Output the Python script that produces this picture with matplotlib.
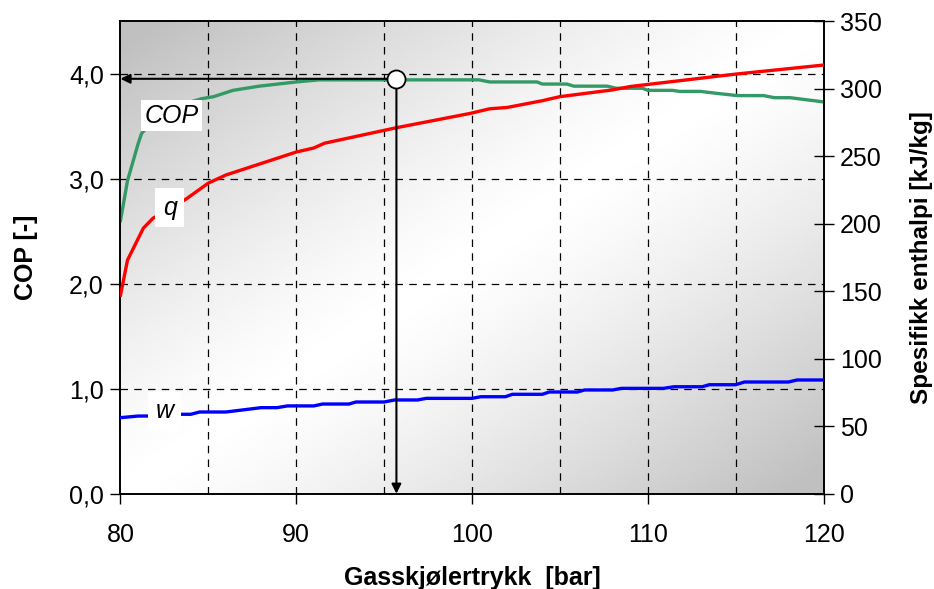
import numpy as np
import matplotlib
matplotlib.use("Agg")
import matplotlib.pyplot as plt
from matplotlib.ticker import FuncFormatter, MultipleLocator

plt.rcParams["font.family"] = ["Liberation Sans", "DejaVu Sans"]

# COP (left axis)
cop_p = [80, 80.4, 81.0, 81.2, 82.0, 83.0, 84.6, 85.3, 86.4, 87.9, 90.0, 91.3,
         100.4, 101.0, 103.7, 104.0, 105.4, 105.8, 107.7, 108.2, 109.7, 110.0,
         111.4, 111.8, 113.0, 114.0, 115.1, 116.6, 117.2, 118.1, 120.0]
cop = [2.60, 2.98, 3.33, 3.43, 3.58, 3.68, 3.76, 3.78, 3.84, 3.88, 3.92, 3.94,
       3.94, 3.92, 3.92, 3.90, 3.90, 3.88, 3.88, 3.86, 3.86, 3.84,
       3.84, 3.83, 3.83, 3.81, 3.79, 3.79, 3.77, 3.77, 3.73]

# specific enthalpy q and w (right axis, kJ/kg)
q_p = [80, 80.4, 81.3, 81.85, 83.0, 83.8, 85.0, 86.0, 90.0, 91.0, 91.6, 95.7,
       99.9, 101.0, 102.0, 104.0, 105.0, 108.0, 109.0, 115.0, 120.0]
q = [147, 173, 196.6, 204, 212, 218.8, 230, 236, 253, 256, 259.5, 271,
     281.6, 285, 286, 291, 294, 299, 301.5, 310.7, 317.4]

w_p = [80, 81.0, 81.6, 83.4, 84.0, 84.5, 86.0, 88.0, 88.9, 89.5, 91.0, 91.5,
       93.0, 93.4, 95.0, 95.6, 96.9, 97.4, 100.0, 100.5, 101.9, 102.3, 104.0,
       104.4, 106.0, 106.4, 108.0, 108.5, 110.9, 111.5, 113.1, 113.5, 115.0,
       115.5, 118.0, 118.5, 120.0]
w = [56.3, 57.5, 57.5, 58.8, 58.8, 60.5, 60.5, 63.7, 63.7, 65.0, 65.0, 66.4,
     66.4, 67.9, 67.9, 69.4, 69.4, 70.6, 70.6, 71.8, 71.8, 73.6, 73.6,
     75.3, 75.3, 76.8, 76.8, 78.0, 78.0, 79.2, 79.2, 80.7, 80.7,
     82.7, 82.7, 84.2, 84.2]

# operating point read-off
op_p = 95.7
op_cop = 3.95

fig = plt.figure(figsize=(9.34, 5.89), dpi=100)
ax = fig.add_axes([0.129, 0.1618, 0.7527, 0.8025])
ax.set_xlim(80, 120)
ax.set_ylim(0, 4.5)

# diagonal gradient background: grey corners top-left / bottom-right
u, v = np.meshgrid(np.linspace(0, 1, 300), np.linspace(1, 0, 200))
shade = 1.0 - 0.25 * np.clip(np.abs(u - v) * 1.05, 0, 1) ** 1.3
ax.imshow(shade, extent=[0, 1, 0, 1], transform=ax.transAxes, cmap="gray",
          vmin=0, vmax=1, aspect="auto", zorder=0, interpolation="bilinear")

for xv in range(85, 120, 5):
    ax.axvline(xv, color="black", lw=0.9, ls=(0, (6, 5)), zorder=1)
for yv in [1, 2, 3, 4]:
    ax.axhline(yv, color="black", lw=0.9, ls=(0, (6, 5)), zorder=1)

ax.plot(cop_p, cop, color="#339966", lw=2.4, zorder=3)

ax2 = ax.twinx()
ax2.set_ylim(0, 350)
ax2.plot(q_p, q, color="#ff0000", lw=2.4, zorder=3)
ax2.plot(w_p, w, color="#0000ff", lw=2.4, zorder=3)

# arrows for read-off
ax2.annotate("", xy=(80, op_cop * 350 / 4.5), xytext=(op_p, op_cop * 350 / 4.5),
             arrowprops=dict(arrowstyle="-|>", color="black", lw=1.5,
                             mutation_scale=14, shrinkA=0, shrinkB=0), zorder=4)
ax2.annotate("", xy=(op_p, 0), xytext=(op_p, op_cop * 350 / 4.5),
             arrowprops=dict(arrowstyle="-|>", color="black", lw=1.5,
                             mutation_scale=14, shrinkA=0, shrinkB=0), zorder=4)
ax2.plot([op_p], [op_cop * 350 / 4.5], "o", ms=13, mfc="white", mec="black",
         mew=1.3, zorder=5)

box = dict(boxstyle="square,pad=0.15", fc="white", ec="none")
ax2.text(82.9, 3.6 * 350 / 4.5, "COP", style="italic", fontsize=18,
         ha="center", va="center", bbox=box, zorder=6)
ax2.text(82.8, 2.72 * 350 / 4.5, "q", style="italic", fontsize=18,
         ha="center", va="center",
         bbox=dict(boxstyle="square,pad=0.3", fc="white", ec="none"), zorder=6)
ax2.text(82.5, 0.785 * 350 / 4.5, "w", style="italic", fontsize=18,
         ha="center", va="center",
         bbox=dict(boxstyle="square,pad=0.3", fc="white", ec="none"), zorder=6)

ax.set_xticks([80, 90, 100, 110, 120])
ax.set_yticks([0, 1, 2, 3, 4])
ax.yaxis.set_major_formatter(FuncFormatter(lambda y, _: f"{y:.1f}".replace(".", ",")))
ax2.yaxis.set_major_locator(MultipleLocator(50))

ax.tick_params(axis="both", labelsize=18, direction="out", length=7, width=1)
ax.tick_params(axis="y", pad=5)
ax.tick_params(axis="x", pad=14)
ax2.tick_params(axis="y", labelsize=18, direction="inout", length=14, width=1, pad=5)

for sp in ax.spines.values():
    sp.set_linewidth(1.2)
for sp in ax2.spines.values():
    sp.set_linewidth(1.2)

ax.set_xlabel("Gasskjølertrykk  [bar]", fontsize=18, fontweight="bold", labelpad=14)
ax.set_ylabel("COP [-]", fontsize=18, fontweight="bold", labelpad=22)
ax2.set_ylabel("Spesifikk enthalpi [kJ/kg]", fontsize=17.5, fontweight="bold", labelpad=20)

fig.savefig("out.png", dpi=100)
